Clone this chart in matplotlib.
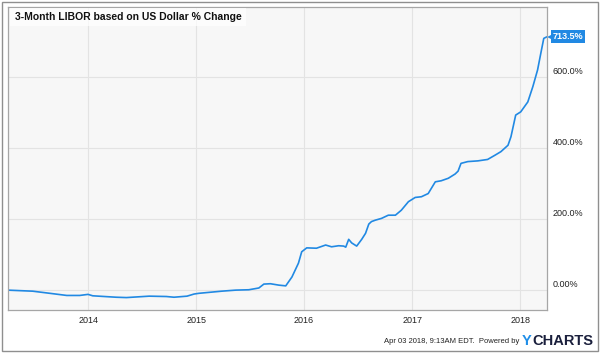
import matplotlib
matplotlib.use("Agg")
import matplotlib.pyplot as plt
import matplotlib.patches as patches
import matplotlib.transforms as mtransforms
import pandas as pd

# values (% change of 3-month USD LIBOR)
dates = ["2013-04-03", "2013-06-27", "2013-08-24", "2013-10-20", "2013-12-03", "2013-12-31",
         "2014-01-16", "2014-04-05", "2014-05-10", "2014-07-26", "2014-09-22", "2014-10-18",
         "2014-12-01", "2014-12-25", "2015-01-10", "2015-03-28", "2015-05-15", "2015-06-28",
         "2015-08-01", "2015-08-18", "2015-09-09", "2015-10-08", "2015-10-31", "2015-11-21",
         "2015-12-13", "2015-12-24", "2016-01-10", "2016-02-12", "2016-03-14", "2016-04-03",
         "2016-04-27", "2016-05-14", "2016-05-21", "2016-05-31", "2016-06-10", "2016-06-27",
         "2016-07-14", "2016-07-27", "2016-08-07", "2016-08-16", "2016-08-29", "2016-09-19",
         "2016-10-12", "2016-11-05", "2016-11-25", "2016-12-19", "2017-01-11", "2017-02-01",
         "2017-02-24", "2017-03-20", "2017-04-09", "2017-05-03", "2017-05-26", "2017-06-05",
         "2017-06-15", "2017-07-08", "2017-08-11", "2017-09-13", "2017-10-08", "2017-10-28",
         "2017-11-21", "2017-12-01", "2017-12-17", "2018-01-03", "2018-01-27", "2018-02-13",
         "2018-03-01", "2018-03-12", "2018-03-22", "2018-04-02"]
values = [0, -3, -9, -15, -15, -12,
          -16, -20, -21, -17, -18, -20,
          -17, -11, -9, -3, 0, 1,
          6, 17, 18, 14, 12, 37,
          76, 108, 119, 118, 127, 122,
          125, 124, 121, 143, 133, 124,
          143, 160, 186, 193, 197, 202,
          211, 211, 225, 249, 261, 263,
          272, 305, 308, 315, 327, 335,
          357, 362, 364, 368, 380, 390,
          408, 432, 493, 502, 530, 573,
          620, 667, 709, 713.5]

ytick_vals = [0, 200, 400, 600]
ytick_labels = ["0.00%", "200.0%", "400.0%", "600.0%"]
xtick_years = ["2014", "2015", "2016", "2017", "2018"]
title = "3-Month LIBOR based on US Dollar % Change"
last_label = "713.5%"

x = pd.to_datetime(dates)
blue = "#2189e3"

plt.rcParams["font.family"] = ["Liberation Sans", "DejaVu Sans"]
fig = plt.figure(figsize=(6, 3.53), dpi=100)
ax = fig.add_axes([0.0127, 0.1218, 0.899, 0.858])
ax.set_facecolor("#f7f7f7")

ax.plot(x, values, color=blue, lw=1.2)

ax.set_xlim(x[0], x[-1])
ax.set_ylim(-56, 797)

ax.set_xticks(pd.to_datetime([y + "-01-01" for y in xtick_years]))
ax.set_xticklabels(xtick_years, fontsize=6.5, color="#222222")
ax.set_yticks(ytick_vals)
ax.set_yticklabels(ytick_labels, fontsize=6.5, color="#222222")
ax.yaxis.tick_right()
ax.tick_params(axis="both", length=0)
ax.tick_params(axis="x", pad=4)
ax.tick_params(axis="y", pad=4)
# y labels sit a little above their gridlines
offset = mtransforms.ScaledTranslation(0, 6 / 100, fig.dpi_scale_trans)
for lab in ax.get_yticklabels():
    lab.set_verticalalignment("center")
    lab.set_transform(lab.get_transform() + offset)

ax.grid(True, color="#e3e3e3", lw=0.8)
ax.set_axisbelow(True)
for s in ax.spines.values():
    s.set_color("#a6a6a6")
    s.set_linewidth(0.9)

# title inside plot
ax.text(0.013, 0.968, title, transform=ax.transAxes, fontsize=7.5, fontweight="bold",
        ha="left", va="center", color="#111111",
        bbox=dict(boxstyle="square,pad=0.4", fc="white", ec="none", alpha=0.7))

# last value callout
ax.annotate(last_label, xy=(x[-1], values[-1]), xycoords="data",
            xytext=(4.2, 0), textcoords="offset points", fontsize=6.5, fontweight="bold",
            color="white", ha="left", va="center", annotation_clip=False,
            bbox=dict(boxstyle="square,pad=0.22", fc=blue, ec="none"))
shift = mtransforms.ScaledTranslation(2.5 / 100, 0, fig.dpi_scale_trans)
ax.plot([x[-1]], [values[-1]], marker="<", color=blue, ms=4.5, mew=0, clip_on=False,
        transform=ax.transData + shift)

# footer
fig.text(0.866, 0.032, "Apr 03 2018, 9:13AM EDT.  Powered by", fontsize=5.5,
         ha="right", va="center", color="#222222")
y_txt = fig.text(0.870, 0.034, "Y", fontsize=10.5, fontweight="bold", ha="left", va="center",
                 color="#1f8ee8")
ax.annotate("CHARTS", xy=(1, 0.5), xycoords=y_txt, xytext=(0.5, 0), textcoords="offset points",
            fontsize=10.5, fontweight="bold", ha="left", va="center", color="#1a1f3c",
            annotation_clip=False)

# outer frame
fig.patches.append(patches.Rectangle((0.004, 0.006), 0.992, 0.988, transform=fig.transFigure,
                                     fill=False, ec="#8f8f8f", lw=1.0))

fig.savefig("out.png", dpi=100)
